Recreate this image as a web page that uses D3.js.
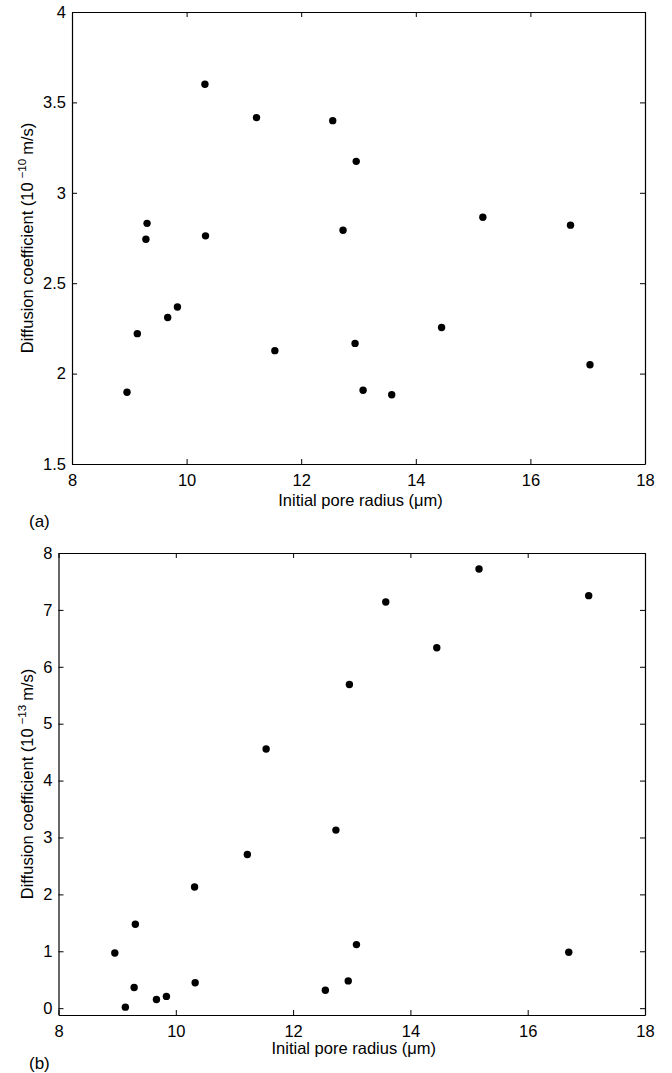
<!DOCTYPE html>
<html>
<head>
<meta charset="utf-8">
<script src="https://cdn.jsdelivr.net/npm/d3@7"></script>
<style>
  html, body { margin: 0; padding: 0; background: #fff; }
  svg { display: block; }
  text { font-family: "Liberation Sans", Arial, Helvetica, sans-serif; fill: #000; }
</style>
</head>
<body>
<svg id="fig" width="672" height="1073"></svg>
<script>
// Initial pore radius (µm) of each sample
const poreRadius = [8.96, 9.14, 9.29, 9.31, 9.67, 9.84, 10.32, 10.33, 11.22, 11.54,
                    12.55, 12.73, 12.94, 12.96, 13.08, 13.58, 14.45, 15.17, 16.70, 17.04];
// (a) diffusion coefficient, units of 1e-10 m/s
const diffusionA = [1.897, 2.221, 2.743, 2.831, 2.310, 2.368, 3.600, 2.762, 3.416, 2.127,
                    3.399, 2.793, 2.167, 3.174, 1.908, 1.883, 2.255, 2.865, 2.821, 2.049];
// (b) diffusion coefficient, units of 1e-13 m/s
const diffusionB = [0.971, 0.018, 0.363, 1.475, 0.152, 0.207, 2.130, 0.448, 2.700, 4.555,
                    0.315, 3.130, 0.479, 5.690, 1.117, 7.140, 6.335, 7.720, 0.984, 7.250];

const xTicks = [8, 10, 12, 14, 16, 18];
const yTicksA = [1.5, 2, 2.5, 3, 3.5, 4];
const yTicksB = [0, 1, 2, 3, 4, 5, 6, 7, 8];

const svg = d3.select("#fig");
const fmt = d3.format("~g");
const FS = 16.5;

function panel(opts) {
  const { left, right, top, bottom, yDomain, yTicks, ys, exponent, tag, titleDy, tagY } = opts;
  const x = d3.scaleLinear().domain([8, 18]).range([left, right]);
  const y = d3.scaleLinear().domain(yDomain).range([bottom, top]);
  const g = svg.append("g");

  const tick = 5;
  // bottom axis with labels
  g.append("g").attr("transform", `translate(0,${bottom})`)
    .call(d3.axisBottom(x).tickValues(xTicks).tickFormat(fmt).tickSizeInner(-tick).tickSizeOuter(0).tickPadding(10));
  // top axis, ticks only
  g.append("g").attr("transform", `translate(0,${top})`)
    .call(d3.axisTop(x).tickValues(xTicks).tickFormat("").tickSizeInner(-tick).tickSizeOuter(0));
  // left axis with labels
  g.append("g").attr("transform", `translate(${left},0)`)
    .call(d3.axisLeft(y).tickValues(yTicks).tickFormat(fmt).tickSizeInner(-tick).tickSizeOuter(0).tickPadding(6));
  // right axis, ticks only
  g.append("g").attr("transform", `translate(${right},0)`)
    .call(d3.axisRight(y).tickValues(yTicks).tickFormat("").tickSizeInner(-tick).tickSizeOuter(0));

  g.selectAll(".domain").attr("stroke", "#000").attr("stroke-width", 1.2);
  g.selectAll(".tick line").attr("stroke", "#000").attr("stroke-width", 1);
  g.selectAll(".tick text").attr("font-size", FS).attr("font-family", "Liberation Sans, Arial, sans-serif").attr("fill", "#000");

  // data points
  g.append("g").selectAll("circle")
    .data(poreRadius.map((r, i) => [r, ys[i]]))
    .join("circle")
    .attr("cx", d => x(d[0]))
    .attr("cy", d => y(d[1]))
    .attr("r", 3.7)
    .attr("fill", "#000");

  // x-axis title
  g.append("text")
    .attr("x", (left + right) / 2 + 2)
    .attr("y", bottom + titleDy)
    .attr("text-anchor", "middle")
    .attr("font-size", FS)
    .text("Initial pore radius (\u03bcm)");

  // y-axis title with exponent
  const cy = (top + bottom) / 2;
  const yt = g.append("text")
    .attr("transform", `translate(33,${cy}) rotate(-90)`)
    .attr("text-anchor", "middle")
    .attr("font-size", FS);
  yt.append("tspan").text("Diffusion coefficient (10");
  yt.append("tspan").attr("dx", 4).attr("dy", -7).attr("font-size", 11.5).text("\u2212" + exponent);
  yt.append("tspan").attr("dx", 4).attr("dy", 7).text("m/s)");

  // panel tag
  g.append("text")
    .attr("x", 29)
    .attr("y", tagY)
    .attr("font-size", FS + 0.5)
    .text(tag);
}

panel({ left: 72, right: 645, top: 12, bottom: 464, yDomain: [1.5, 4], yTicks: yTicksA,
        ys: diffusionA, exponent: "10", tag: "(a)", titleDy: 42, tagY: 527 });
panel({ left: 58.5, right: 645, top: 553, bottom: 1015, yDomain: [-0.12, 8], yTicks: yTicksB,
        ys: diffusionB, exponent: "13", tag: "(b)", titleDy: 39, tagY: 1069 });
</script>
</body>
</html>
